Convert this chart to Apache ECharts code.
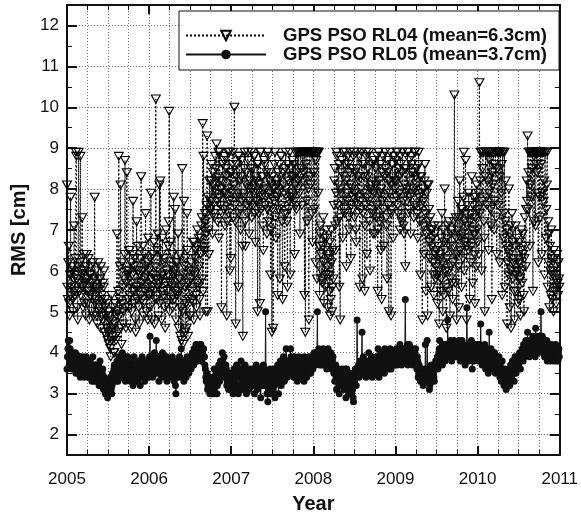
<!DOCTYPE html>
<html>
<head>
<meta charset="utf-8">
<script src="https://cdn.jsdelivr.net/npm/echarts@6/dist/echarts.min.js"></script>
<style>
html,body{margin:0;padding:0;background:#fff;}
#chart{width:581px;height:519px;}
</style>
</head>
<body>
<div id="chart"></div>
<script>
// Samples are evenly spaced through each year (about one every 2 days)
const years = [2005, 2006, 2007, 2008, 2009, 2010];
const xTickLabels = ['2005','2006','2007','2008','2009','2010','2011'];
const yTickLabels = ['2','3','4','5','6','7','8','9','10','11','12'];
const seriesNames = ['GPS PSO RL04 (mean=6.3cm)', 'GPS PSO RL05 (mean=3.7cm)'];

// RL04 RMS [cm]
const rl04_2005 = [
 8.1,5.6,5.3,6.2,6.6,5.2,4.9,5.9,7.8,5.4,5.6,6.0,6.1,5.3,5.0,5.8,7.1,5.5,5.4,6.3,8.9,8.8,5.8,
 5.1,4.8,6.1,8.9,5.7,5.5,6.2,8.8,5.4,6.0,5.9,7.3,5.6,5.1,6.0,6.4,5.2,5.7,5.8,4.9,6.1,6.4,5.5,
 5.2,5.8,6.3,5.5,4.8,5.9,5.4,5.9,6.1,5.0,5.7,5.3,6.2,4.9,5.6,5.8,7.8,5.2,5.3,6.0,5.6,4.9,4.7,
 5.5,6.2,5.0,5.1,5.8,5.8,4.6,6.1,5.3,5.4,4.9,4.8,5.7,5.6,6.0,4.5,5.1,5.3,4.9,4.4,5.2,4.6,4.3,
 5.0,4.5,4.2,4.9,4.8,4.1,3.9,4.6,5.4,4.3,4.4,5.1,4.6,4.0,4.0,4.7,5.2,4.4,4.3,4.9,6.9,5.0,4.5,
 5.5,8.8,4.9,5.3,6.1,8.1,4.6,4.2,5.2,6.2,5.6,4.7,5.0,5.8,6.4,8.7,5.1,4.6,5.7,8.4,6.0,5.9,5.3,
 5.1,6.0,6.5,5.4,4.6,6.2,5.7,5.0,5.9,6.4,7.7,5.5,5.2,6.1,6.3,4.8,4.5,5.6,7.2,5.3,5.6,6.6,6.0,
 5.1,4.7,5.9,6.3,5.4,8.3,5.7,5.3,6.0,6.6,5.2,4.9,6.4,5.8,5.5,7.4,6.1,5.0,5.6,6.2,4.8,6.8,5.4];
const rl04_2006 = [
 6.0,5.4,5.1,6.3,7.9,5.8,4.8,5.6,6.4,5.9,5.5,6.7,4.7,5.3,6.1,10.2,5.8,5.3,6.5,6.9,5.6,4.9,5.7,
 8.1,5.2,8.2,5.8,6.4,4.8,5.9,6.8,5.5,5.4,6.2,6.3,5.1,4.6,5.7,7.0,6.0,5.2,5.5,5.9,6.6,7.2,9.9,
 5.0,5.7,6.7,5.3,6.1,5.6,6.4,5.1,5.9,7.8,5.3,6.0,7.5,5.5,4.8,6.2,6.2,5.4,5.5,6.9,4.6,5.8,5.8,
 6.4,4.4,5.6,5.1,4.3,8.5,5.0,4.2,5.9,7.7,6.1,5.6,4.5,6.3,5.2,4.6,7.4,6.5,4.4,5.3,5.7,6.0,4.9,
 4.9,5.8,6.2,5.5,5.3,6.0,6.7,5.2,4.8,6.7,5.9,6.3,6.5,5.4,5.1,6.6,7.0,5.7,5.6,6.8,6.1,5.3,4.9,
 6.4,6.8,7.1,7.3,5.8,9.6,5.5,8.8,6.6,6.5,7.4,7.2,5.0,6.9,7.6,9.3,5.0,7.8,7.0,6.4,8.2,7.5,7.7,
 7.5,8.2,8.6,7.7,6.9,8.4,8.1,7.4,7.3,8.0,8.8,7.9,8.5,9.1,7.7,7.2,8.3,8.9,6.8,7.8,8.9,8.2,7.6,
 8.0,5.1,7.4,8.2,8.6,7.9,7.5,8.7,8.8,7.1,7.9,8.5,8.3,4.9,7.2,8.0,8.9,7.4,7.7,8.9,6.0,8.4,6.3];
const rl04_2007 = [
 8.4,7.9,7.7,8.6,8.9,7.3,8.1,10.0,7.6,7.2,4.7,8.3,8.6,7.8,7.9,8.8,5.6,7.4,8.8,8.2,7.5,7.0,8.3,
 8.7,7.7,6.6,4.4,7.9,7.8,8.5,8.9,7.2,6.6,8.4,8.1,7.6,7.4,8.9,8.7,8.0,6.9,7.7,8.2,8.5,7.6,8.9,
 7.3,8.0,8.5,7.6,7.9,8.8,8.8,7.4,6.7,8.3,8.2,7.7,8.6,5.0,7.9,8.6,7.4,8.1,5.2,8.9,8.9,7.5,7.8,
 8.3,8.3,7.1,6.5,8.0,8.7,8.6,7.6,7.8,8.0,8.4,6.9,7.5,8.9,8.8,7.2,7.9,8.4,8.2,5.9,7.0,8.1,4.5,
 8.3,7.5,4.6,8.0,7.7,8.6,8.9,7.3,6.8,8.2,8.1,7.8,5.4,8.4,7.5,7.9,8.6,5.8,8.3,8.8,8.8,7.6,7.2,
 5.3,8.1,8.4,7.9,7.4,6.1,8.5,8.9,8.0,7.4,7.2,5.6,8.6,8.2,7.5,7.7,8.9,5.9,7.8,8.5,8.3,7.9,8.7,
 7.8,8.3,8.6,7.7,6.4,8.1,8.9,7.6,7.5,8.4,8.9,8.0,8.2,8.9,8.9,7.9,6.9,8.9,8.9,8.5,7.6,8.9,8.9,
 8.2,8.4,8.9,5.4,8.9,4.5,8.6,8.9,7.7,7.2,8.9,8.9,8.0,4.8,8.9,8.9,8.3,8.1,8.9,8.9,7.4,6.7,8.9];
const rl04_2008 = [
 8.9,8.4,7.5,8.9,8.9,6.2,8.7,8.9,5.8,8.9,8.9,7.9,8.9,6.6,5.4,6.9,7.1,6.4,6.0,5.8,5.7,6.6,7.3,
 6.2,5.2,6.8,6.5,5.6,5.9,7.0,6.8,6.1,5.1,6.4,6.3,5.9,5.5,6.7,4.9,5.3,7.0,6.2,5.0,5.6,6.5,5.8,
 7.6,8.2,8.5,7.1,6.5,7.9,8.9,8.8,7.2,7.6,8.1,8.6,5.6,7.3,4.8,8.0,7.9,8.4,8.7,7.7,6.8,8.9,8.3,
 7.5,7.4,8.6,8.9,8.2,6.1,7.9,7.7,8.8,8.6,7.3,7.0,8.4,8.9,8.1,6.3,7.6,8.0,8.5,7.5,7.8,8.8,8.9,
 7.3,7.9,8.4,7.0,6.7,8.5,8.9,7.6,7.8,8.3,8.2,8.8,5.6,7.7,7.5,8.0,8.9,8.6,5.8,7.4,7.9,8.3,8.6,
 5.5,7.1,7.6,8.8,8.9,6.4,7.8,8.3,8.5,7.7,8.9,7.2,6.0,8.0,8.1,7.5,7.4,8.6,8.7,6.9,8.2,7.9,8.7,
 6.9,8.1,8.5,7.3,7.6,8.8,5.5,7.0,8.9,8.2,7.2,7.9,8.6,6.5,8.0,5.3,7.7,8.4,8.8,7.5,6.6,8.3,7.8,
 8.9,8.5,7.3,7.1,5.8,8.4,8.7,7.6,5.0,8.2,7.9,8.9,8.1,4.9,7.4,7.5,8.6,8.3,6.8,7.7,8.2,8.8,8.0];
const rl04_2009 = [
 8.7,8.2,7.8,8.9,8.9,7.6,7.4,8.5,8.3,7.9,7.0,8.8,8.6,7.3,7.2,8.4,8.9,7.7,7.1,6.9,8.1,8.5,6.1,
 7.9,8.5,8.0,7.7,8.9,8.9,7.4,7.5,8.7,8.2,7.8,6.9,8.4,8.8,8.6,7.9,8.0,8.4,7.3,7.6,8.9,8.9,8.3,
 7.6,8.1,8.5,7.4,6.8,8.6,8.9,7.8,7.2,8.3,5.9,7.6,8.3,7.9,4.8,8.0,7.7,7.1,6.4,8.2,8.6,7.4,5.5,
 6.9,7.9,8.1,4.9,7.2,8.1,7.5,6.7,6.3,7.3,7.0,5.6,6.6,7.0,6.8,6.2,5.9,5.4,7.1,6.9,6.4,5.8,6.1,
 6.5,5.9,5.2,6.6,7.1,6.0,4.7,6.4,6.3,5.5,5.8,6.8,7.4,6.2,5.0,7.0,6.7,5.4,8.0,6.5,6.0,5.6,4.6,
 6.3,6.8,7.1,5.5,6.0,7.2,6.6,4.9,5.8,6.1,6.9,7.0,5.7,5.3,6.2,6.6,7.2,10.3,6.4,5.7,7.3,6.8,4.8,
 6.4,7.0,7.7,6.1,5.1,7.3,8.2,6.5,6.8,7.5,5.6,6.9,7.5,6.3,7.8,8.9,6.0,7.2,6.7,8.7,7.4,4.8,6.6,
 7.1,7.6,6.5,7.9,6.8,5.3,7.2,7.4,6.2,6.6,8.3,7.0,5.7,7.6,7.8,6.9,6.4,5.2,7.3,7.8,6.1,8.1,7.0];
const rl04_2010 = [
 6.7,7.5,7.9,6.4,10.6,7.4,8.2,8.9,8.9,6.0,7.7,8.5,8.9,8.9,7.2,6.8,5.0,8.3,8.9,8.9,7.8,7.6,8.2,
 8.9,8.9,6.5,7.9,8.7,8.9,7.5,7.1,8.9,5.3,8.4,8.1,8.9,8.6,7.0,7.7,8.6,8.9,8.9,7.3,6.4,8.5,8.9,
 7.6,8.9,8.9,8.3,6.2,8.9,8.9,7.9,8.6,5.4,8.9,8.9,6.8,7.4,8.9,5.6,7.2,8.2,6.6,7.0,4.7,6.2,6.5,
 5.9,8.0,6.4,5.1,6.9,7.1,4.6,6.0,7.4,6.7,5.8,6.2,6.3,5.5,4.8,6.6,7.1,5.9,5.5,6.8,6.0,5.2,6.3,
 5.3,6.2,6.7,5.8,4.9,6.5,7.0,6.0,5.7,6.9,6.4,5.4,5.0,6.3,7.3,6.6,6.1,7.5,8.2,7.7,9.3,7.5,8.4,
 8.9,8.9,6.6,8.1,8.9,8.9,7.8,8.5,8.9,5.5,8.9,8.8,7.2,8.9,8.9,7.1,8.6,8.9,8.4,8.9,7.9,6.2,8.9,
 8.9,7.8,7.3,8.9,8.6,8.9,6.4,7.9,8.9,8.9,7.7,8.2,5.9,8.9,8.9,6.8,7.5,8.1,8.9,5.6,7.2,6.2,6.9,
 5.1,6.6,6.0,5.4,7.0,6.3,5.3,5.9,6.0,5.0,6.5,6.3,5.5,5.8,6.1,5.2,5.6,6.4,5.7,5.4,6.2,5.8,5.6];

// RL05 RMS [cm]
const rl05_2005 = [
 3.6,3.9,4.1,4.3,3.9,3.7,4.3,4.1,3.7,3.9,3.8,3.6,4.0,3.9,3.6,3.8,3.9,3.7,3.8,4.0,3.5,3.7,3.9,
 3.8,3.7,3.5,3.6,3.9,3.9,3.7,3.4,3.5,3.8,3.6,3.7,3.9,3.8,3.6,3.5,3.4,3.6,3.8,3.7,3.9,3.5,3.6,
 3.7,3.5,3.4,3.8,3.6,3.8,3.5,3.4,3.6,3.7,3.3,3.5,3.9,3.6,3.5,3.3,3.4,3.7,3.7,3.5,3.3,3.4,3.6,
 3.4,3.5,3.7,3.2,3.4,3.8,3.5,3.4,3.2,3.3,3.5,3.6,3.3,3.1,3.2,3.4,3.1,3.0,3.3,3.2,3.1,3.0,2.9,
 3.0,3.1,3.2,3.0,3.1,3.3,3.4,3.1,3.0,3.2,3.5,3.4,3.3,3.6,3.7,3.5,3.4,3.3,3.6,3.7,3.8,3.4,3.3,
 3.6,3.9,3.7,3.5,3.8,3.6,3.4,3.4,3.7,4.0,3.5,3.7,3.6,3.5,3.8,3.9,3.3,3.5,3.6,3.8,3.4,3.9,3.7,
 3.5,3.6,3.7,3.4,3.3,3.7,3.8,3.5,3.6,3.4,3.2,3.5,3.9,3.7,3.4,3.6,3.7,3.5,3.5,3.3,3.3,3.6,3.8,
 3.6,3.6,3.4,3.2,3.5,3.5,3.7,3.9,3.6,3.4,3.5,3.7,3.8,3.3,3.5,3.6,3.8,3.4,3.6,3.8,3.5,3.4,3.7];
const rl05_2006 = [
 3.8,3.9,4.4,3.7,3.6,3.8,3.9,3.5,3.4,3.7,3.7,3.9,4.0,3.6,3.5,3.8,4.3,3.7,3.6,3.5,3.8,3.9,3.3,
 3.6,3.9,3.8,3.7,3.5,3.4,3.6,4.0,3.8,3.6,3.7,3.8,3.9,3.5,3.6,3.5,3.9,3.3,3.4,3.7,3.8,3.6,3.5,
 3.5,3.7,3.8,3.5,3.4,3.6,3.9,3.8,3.6,3.4,3.3,3.5,3.7,3.2,3.0,3.4,3.5,3.7,3.8,3.6,3.4,3.5,3.9,
 3.7,3.6,3.8,4.1,3.6,3.5,3.4,3.7,3.8,3.3,3.5,3.8,3.7,3.6,3.4,3.5,3.9,3.8,3.7,3.6,3.5,3.8,3.6,
 3.8,3.7,3.6,3.9,3.9,4.0,4.0,3.8,3.7,4.1,4.1,3.9,3.9,4.2,4.2,3.8,3.8,4.0,4.0,4.1,4.1,3.9,3.9,
 4.2,4.2,3.8,3.8,4.0,4.0,4.1,4.1,3.9,3.9,3.7,3.6,3.4,3.3,3.5,3.5,3.1,3.2,3.4,3.3,3.2,3.0,3.1,
 3.3,3.2,3.0,3.1,3.4,3.3,3.1,3.0,3.6,3.4,3.2,3.3,3.5,3.6,3.0,3.2,3.4,3.5,3.7,3.6,3.3,3.4,3.8,
 3.6,3.5,3.7,4.0,3.8,3.6,3.5,3.9,3.7,3.4,3.5,3.7,3.6,3.2,3.3,3.5,3.4,3.1,3.2,3.4,3.5,3.3,3.2];
const rl05_2007 = [
 3.2,3.4,3.5,3.1,3.0,3.3,3.6,3.5,3.3,3.2,3.1,3.4,3.7,3.5,3.4,3.1,3.0,3.2,3.5,3.6,3.2,3.4,3.8,
 3.5,3.3,3.1,3.6,3.4,3.1,3.3,3.4,3.7,3.2,3.5,3.0,3.2,3.6,3.5,3.3,3.3,3.1,3.4,3.6,3.3,3.5,3.4,
 3.5,3.3,3.2,3.5,3.6,3.3,3.0,3.2,3.4,3.6,3.7,3.4,3.1,3.3,3.5,3.2,3.3,3.6,3.6,3.4,2.9,3.2,3.4,
 3.3,3.2,3.5,3.7,3.4,3.6,3.3,3.5,5.0,3.2,3.3,3.0,3.4,2.8,3.1,3.5,3.3,3.1,3.6,3.4,3.0,3.2,3.4,
 3.4,3.3,3.1,3.5,3.6,3.2,2.9,3.3,3.5,3.4,3.3,3.6,3.7,3.5,3.0,3.3,3.4,3.6,3.8,3.5,3.2,3.4,3.6,
 3.7,3.5,3.9,3.6,3.3,3.5,3.7,3.8,4.1,3.6,3.4,3.5,3.6,3.8,3.8,3.7,3.5,3.6,4.1,3.9,3.6,3.7,3.5,
 3.7,3.6,3.4,3.8,3.9,3.5,3.5,3.7,3.8,3.4,3.3,3.6,3.6,3.8,3.9,3.5,3.4,3.7,3.7,3.6,3.5,3.8,3.8,
 3.5,3.6,3.3,3.9,3.7,3.5,3.6,3.7,3.4,3.8,3.8,3.6,3.6,3.9,3.5,3.7,3.7,3.5,3.6,3.9,3.8,3.7,3.6];
const rl05_2008 = [
 3.8,3.9,4.0,3.8,3.7,3.9,3.9,4.0,3.8,5.0,3.8,4.0,4.1,3.9,3.7,3.8,3.9,4.0,4.0,3.7,3.8,3.9,4.1,
 4.0,3.7,3.8,3.9,4.0,4.0,3.8,3.6,3.7,3.9,4.1,4.0,3.8,3.8,3.7,3.7,4.0,3.9,3.6,3.7,3.8,3.9,3.7,
 3.5,3.6,3.3,3.5,3.7,3.4,3.1,3.3,3.4,3.5,3.6,3.2,3.0,3.3,3.5,3.4,3.2,3.3,3.6,3.5,3.4,3.2,3.1,
 3.3,3.5,3.6,3.3,2.9,3.2,3.6,3.4,3.2,3.3,3.4,3.1,3.0,3.2,3.5,3.3,3.1,3.0,3.3,3.1,2.9,2.8,3.2,
 3.3,3.4,3.6,3.5,3.2,3.5,4.8,3.6,3.5,3.7,3.6,3.4,3.6,3.8,3.5,3.6,3.7,4.5,3.6,3.7,3.9,3.8,3.5,
 3.6,3.7,3.5,3.4,3.6,3.8,3.7,3.6,3.5,4.0,3.8,3.5,3.7,3.6,3.7,3.9,3.9,3.4,3.5,3.8,3.7,3.6,3.6,
 3.8,3.7,3.5,3.6,3.9,3.8,3.7,4.1,3.8,3.4,3.5,3.8,3.9,3.6,3.6,4.0,3.9,3.7,3.8,3.9,3.6,3.5,4.1,
 3.9,3.8,3.7,3.6,3.8,4.0,3.9,3.7,3.6,3.9,4.0,4.1,3.8,3.6,3.8,3.9,4.0,3.7,3.8,4.0,3.9,3.7,3.8];
const rl05_2009 = [
 3.9,4.0,4.1,3.8,3.7,3.9,4.0,4.1,3.8,3.9,4.2,4.0,3.9,3.8,3.7,4.0,4.1,3.9,3.8,4.0,4.0,4.1,5.3,
 4.0,3.9,3.8,4.1,4.2,3.7,3.8,4.1,4.2,3.8,3.9,4.0,4.1,3.9,3.8,4.1,3.7,4.0,3.8,3.9,4.0,3.9,4.1,
 3.8,3.7,3.6,3.9,3.8,3.4,3.5,3.7,3.6,3.5,3.3,3.4,3.6,3.5,3.4,3.3,3.2,3.4,3.5,3.6,3.3,4.2,3.5,
 3.3,3.4,4.3,3.5,3.6,3.4,3.3,3.1,3.2,3.5,3.6,3.7,3.5,3.3,3.4,3.6,3.5,3.4,3.3,3.6,3.7,3.8,3.6,
 3.7,3.8,3.9,3.6,3.7,4.0,4.1,4.3,3.9,3.8,4.1,4.0,3.9,3.7,3.8,4.2,4.1,4.0,4.0,3.8,3.9,4.1,4.2,
 4.0,4.1,4.8,3.9,4.2,4.2,4.1,4.0,4.3,4.1,4.2,3.8,4.0,4.1,3.9,4.2,4.3,4.0,4.1,4.2,3.9,4.0,4.1,
 4.2,4.0,3.9,4.1,4.3,4.2,4.0,3.8,3.9,4.1,4.1,4.3,3.9,4.0,4.2,4.1,4.0,3.9,3.7,3.8,4.1,4.0,5.1,
 4.1,4.0,3.8,3.9,4.2,4.0,4.1,4.0,3.9,4.3,4.1,3.6,3.8,4.1,4.0,3.8,3.9,4.2,4.1,4.0,3.9,4.2,4.0];
const rl05_2010 = [
 4.1,4.0,3.8,4.2,4.2,3.9,4.0,4.7,4.0,4.1,3.7,3.9,4.1,4.0,3.8,3.9,4.2,4.0,3.6,3.8,3.9,4.1,4.0,
 3.8,3.5,3.7,4.5,3.9,3.8,4.0,4.1,3.7,3.6,3.8,3.9,4.0,3.7,3.8,4.0,3.9,3.5,3.6,3.8,3.9,3.7,3.6,
 3.6,3.8,3.9,3.5,3.4,3.7,3.6,3.3,3.5,3.8,3.6,3.4,3.5,3.2,3.3,3.6,3.4,3.2,3.1,3.4,3.3,3.5,3.2,
 3.3,3.6,3.4,3.2,3.5,3.7,3.6,3.4,3.5,3.8,3.6,3.7,3.5,3.3,3.6,3.9,3.8,3.5,3.7,3.6,3.9,3.8,3.6,
 3.7,3.8,4.0,3.9,3.6,3.8,3.9,4.0,4.1,3.9,3.8,4.2,4.0,3.9,4.0,4.1,4.3,4.2,4.0,4.1,4.5,4.2,4.1,
 4.0,3.9,4.2,4.3,4.1,4.0,4.2,4.3,4.2,4.4,4.3,4.1,4.0,4.2,3.9,4.6,4.3,4.2,4.4,4.3,4.0,4.1,4.2,
 4.3,4.2,4.4,4.1,5.0,4.3,4.2,4.4,4.3,4.0,4.2,4.3,3.9,4.1,4.2,4.0,4.1,4.3,3.8,4.0,4.1,4.2,3.9,
 4.0,4.1,3.8,3.9,4.0,4.2,3.9,4.1,4.0,3.8,3.9,4.1,4.0,3.9,4.2,3.8,4.0,4.1,3.9,3.8,4.0,4.1,3.9];

const rl04ByYear = [rl04_2005, rl04_2006, rl04_2007, rl04_2008, rl04_2009, rl04_2010];
const rl05ByYear = [rl05_2005, rl05_2006, rl05_2007, rl05_2008, rl05_2009, rl05_2010];

function buildSeries(byYear) {
  const out = [];
  byYear.forEach((arr, k) => {
    arr.forEach((v, i) => { out.push([years[k] + i / arr.length, v]); });
  });
  return out;
}
const rl04Data = buildSeries(rl04ByYear);
const rl05Data = buildSeries(rl05ByYear);

const FONT = '"Liberation Sans", Arial, Helvetica, sans-serif';
const gridDot = { color: '#444', width: 0.8, type: [1, 2] };

const chart = echarts.init(document.getElementById('chart'), null, { renderer: 'canvas' });
chart.setOption({
  animation: false,
  backgroundColor: '#fff',
  textStyle: { fontFamily: FONT },
  grid: { left: 67, right: 19, top: 5, bottom: 60, containLabel: false },
  legend: {
    orient: 'vertical',
    left: 179, top: 11,
    padding: [15, 12, 6, 6],
    itemWidth: 80, itemHeight: 12, itemGap: 0,
    backgroundColor: '#fff',
    borderColor: '#111', borderWidth: 1, borderRadius: 0,
    textStyle: { fontFamily: FONT, fontWeight: 'bold', fontSize: 18.6, color: '#111', padding: [0, 0, 0, 12] },
    data: seriesNames
  },
  xAxis: [{
    type: 'value', min: 2005, max: 2011, interval: 1, position: 'bottom',
    axisLine: { show: true, onZero: false, lineStyle: { color: '#111', width: 2 } },
    axisTick: { show: true, inside: true, length: 9, lineStyle: { color: '#111', width: 2 } },
    minorTick: { show: true, splitNumber: 4, length: 5, lineStyle: { color: '#111', width: 1 } },
    splitLine: { show: true, lineStyle: gridDot },
    minorSplitLine: { show: true, lineStyle: gridDot },
    axisLabel: { fontSize: 17, color: '#111', margin: 16, fontFamily: FONT,
      formatter: v => xTickLabels[Math.round(v - 2005)] || '' },
    name: 'Year', nameLocation: 'middle', nameGap: 39,
    nameTextStyle: { fontSize: 20, fontWeight: 'bold', color: '#111', fontFamily: FONT }
  }, {
    type: 'value', min: 2005, max: 2011, interval: 1, position: 'top',
    axisLine: { show: true, onZero: false, lineStyle: { color: '#111', width: 2 } },
    axisTick: { show: true, inside: true, length: 9, lineStyle: { color: '#111', width: 2 } },
    minorTick: { show: true, splitNumber: 4, length: 5, lineStyle: { color: '#111', width: 1 } },
    splitLine: { show: false }, axisLabel: { show: false }
  }],
  yAxis: [{
    type: 'value', min: 1.5, max: 12.5, splitNumber: 11, position: 'left',
    axisLine: { show: true, onZero: false, lineStyle: { color: '#111', width: 2 } },
    axisTick: { show: true, inside: true, length: 10, lineStyle: { color: '#111', width: 2 } },
    minorTick: { show: true, splitNumber: 2, length: 5, lineStyle: { color: '#111', width: 1 } },
    splitLine: { show: true, lineStyle: gridDot },
    axisLabel: { fontSize: 17, color: '#111', margin: 8, fontFamily: FONT,
      formatter: v => { const s = String(v); return yTickLabels.indexOf(s) >= 0 ? s : ''; } },
    name: 'RMS [cm]', nameLocation: 'middle', nameGap: 23,
    nameTextStyle: { fontSize: 20, fontWeight: 'bold', color: '#111', fontFamily: FONT }
  }, {
    type: 'value', min: 1.5, max: 12.5, splitNumber: 11, position: 'right',
    axisLine: { show: true, onZero: false, lineStyle: { color: '#111', width: 2 } },
    axisTick: { show: true, inside: true, length: 10, lineStyle: { color: '#111', width: 2 } },
    minorTick: { show: true, splitNumber: 2, length: 5, lineStyle: { color: '#111', width: 1 } },
    splitLine: { show: false }, axisLabel: { show: false }
  }],
  series: [{
    name: seriesNames[0], type: 'line', data: rl04Data,
    xAxisIndex: 0, yAxisIndex: 0,
    symbol: 'triangle', symbolRotate: 180, symbolSize: [9, 8], showSymbol: true,
    itemStyle: { color: 'rgba(0,0,0,0)', borderColor: '#000', borderWidth: 1.1 },
    lineStyle: { color: '#000', width: 1, type: [2, 2] },
    emphasis: { disabled: true }
  }, {
    name: seriesNames[1], type: 'line', data: rl05Data,
    xAxisIndex: 0, yAxisIndex: 0,
    symbol: 'circle', symbolSize: 7, showSymbol: true,
    itemStyle: { color: '#111' },
    lineStyle: { color: '#111', width: 1 },
    emphasis: { disabled: true }
  }]
});
</script>
</body>
</html>
